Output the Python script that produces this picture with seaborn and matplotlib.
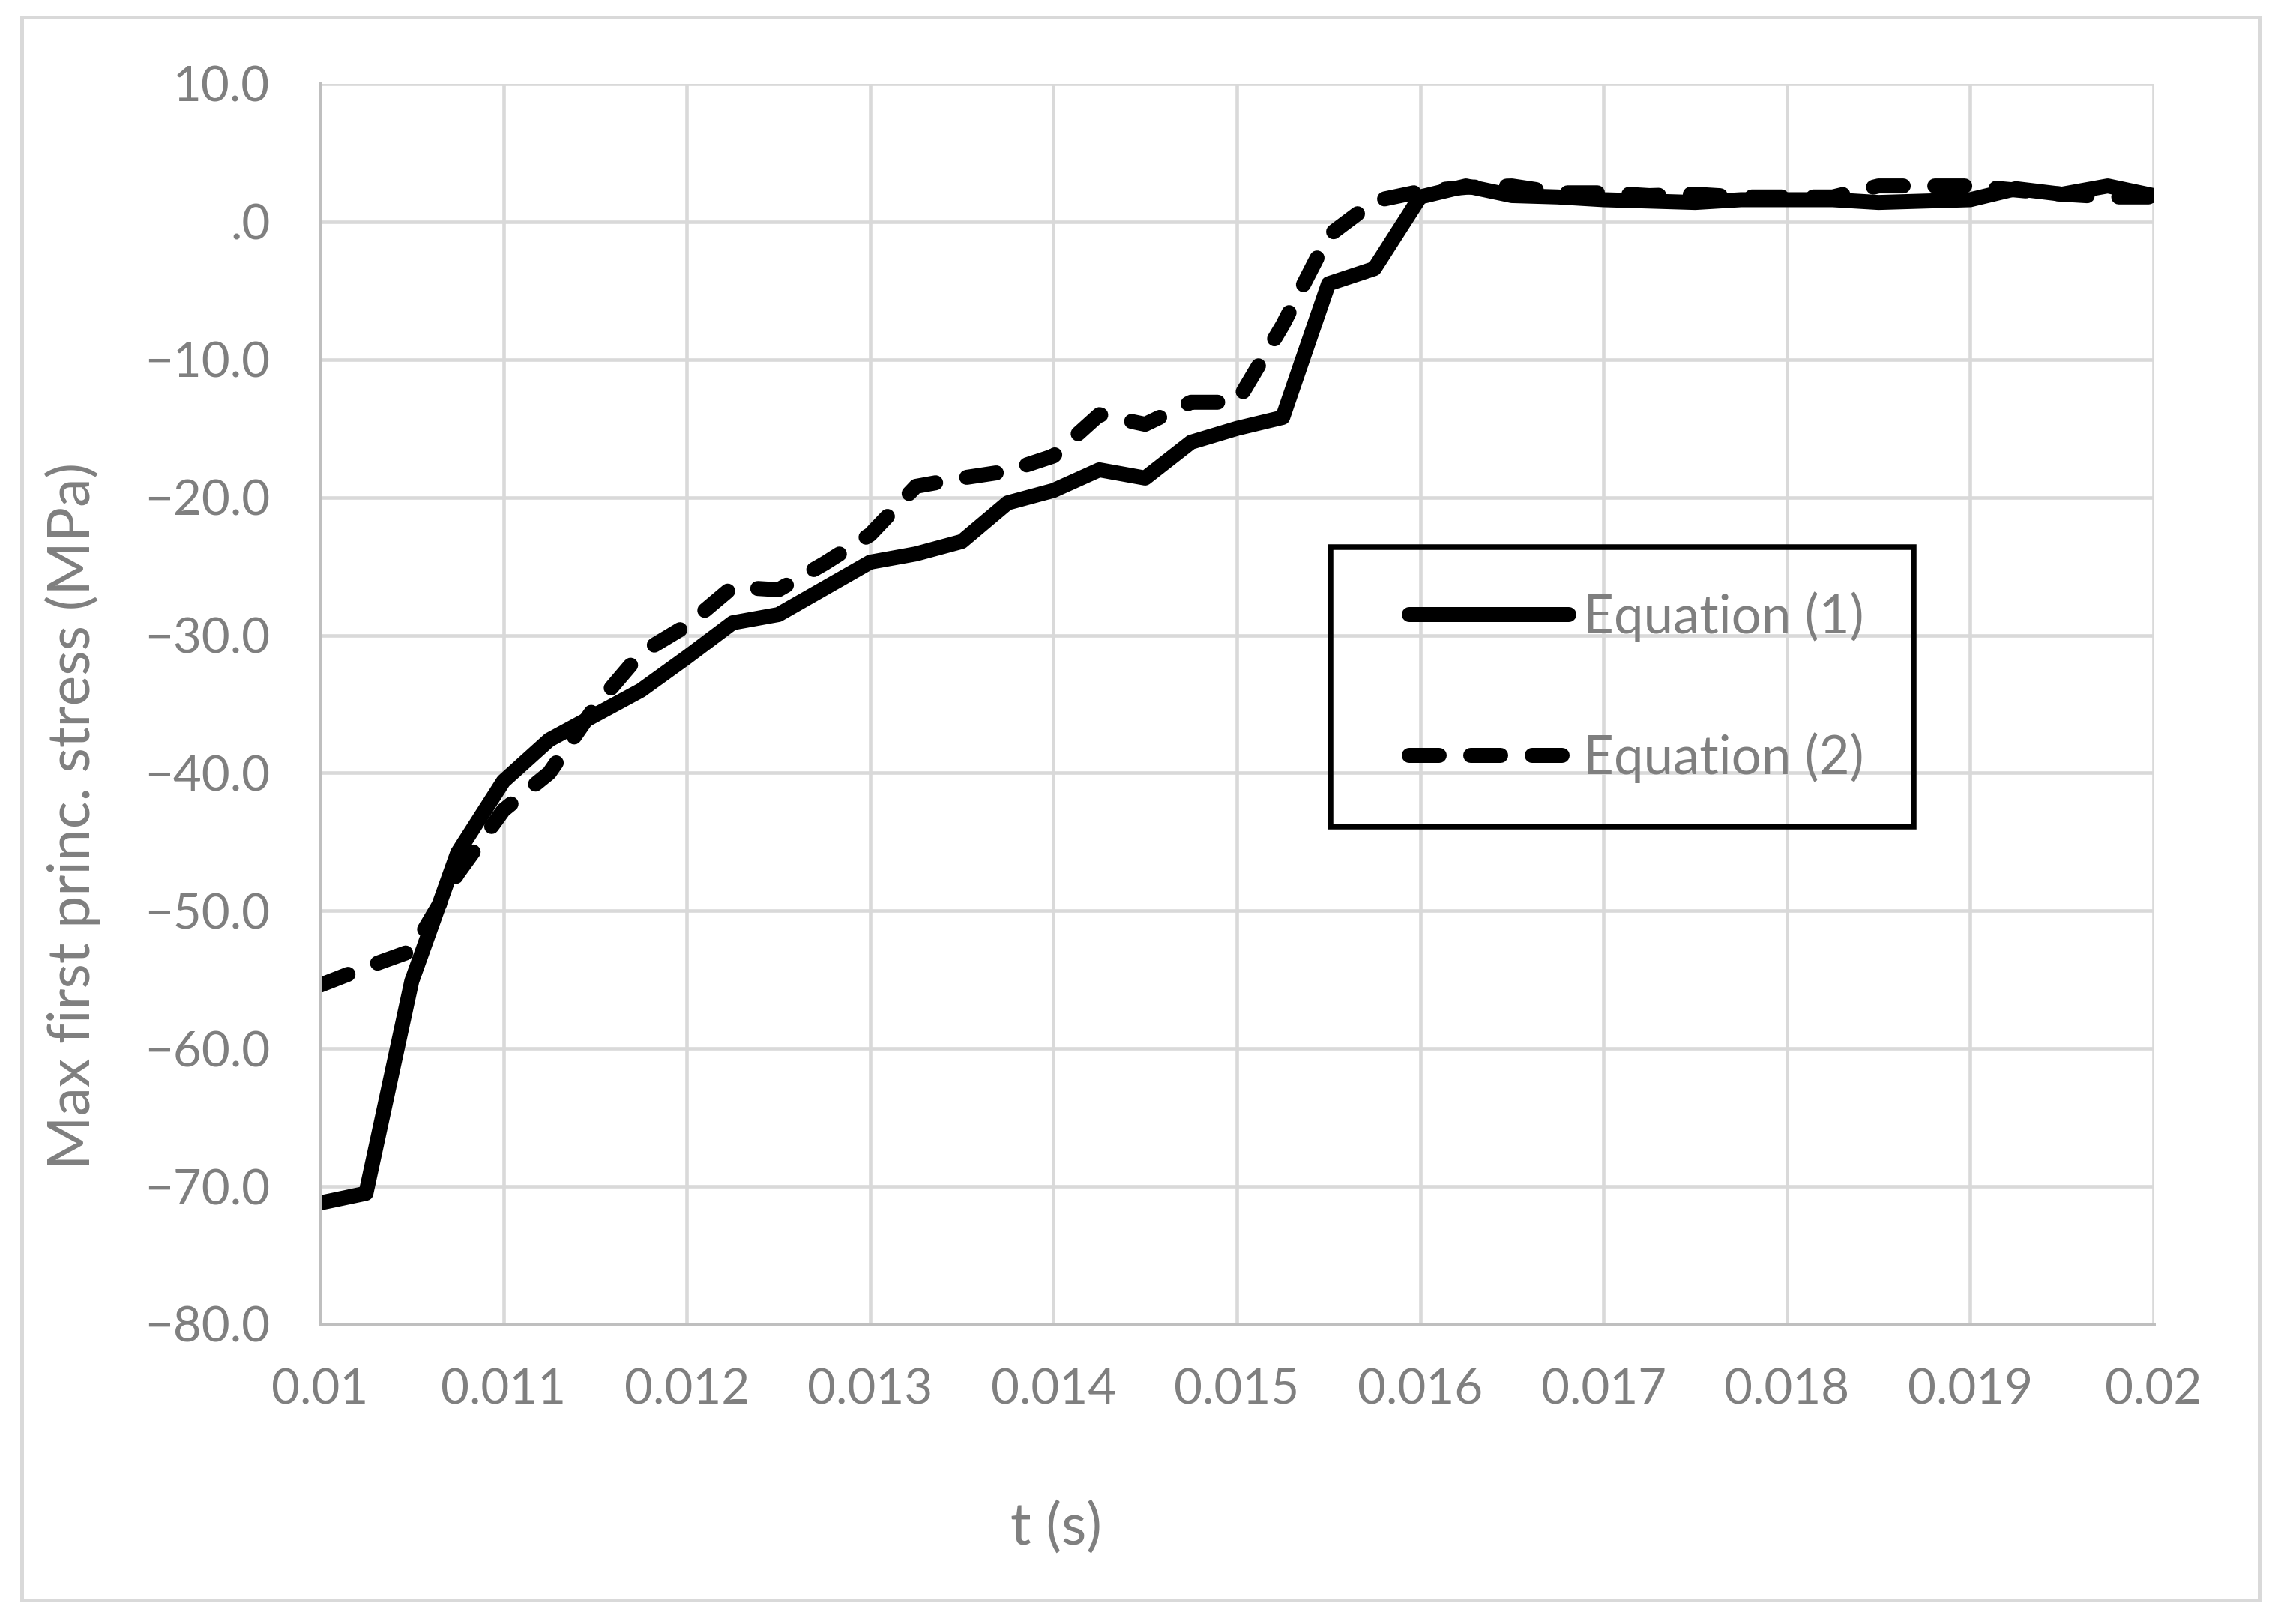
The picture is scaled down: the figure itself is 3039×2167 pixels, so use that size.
import pandas as pd
import matplotlib
matplotlib.use("Agg")
import matplotlib.pyplot as plt
from matplotlib.patches import Rectangle
from matplotlib.ticker import FixedLocator, FuncFormatter
import seaborn as sns

# time steps (s)
t = [0.01, 0.01025, 0.0105, 0.01075, 0.011, 0.01125, 0.0115, 0.01175,
     0.012, 0.01225, 0.0125, 0.01275, 0.013, 0.01325, 0.0135, 0.01375,
     0.014, 0.01425, 0.0145, 0.01475, 0.015, 0.01525, 0.0155, 0.01575,
     0.016, 0.01625, 0.0165, 0.01675, 0.017, 0.01725, 0.0175, 0.01775,
     0.018, 0.01825, 0.0185, 0.01875, 0.019, 0.01925, 0.0195, 0.01975, 0.02]

# max first principal stress (MPa)
eq1 = [-71.2, -70.5, -55.1, -45.8, -40.6, -37.6, -35.8, -34.0,
       -31.6, -29.1, -28.5, -26.6, -24.7, -24.1, -23.2, -20.4,
       -19.5, -18.0, -18.6, -16.0, -15.0, -14.2, -4.5, -3.4,
       1.8, 2.6, 1.9, 1.8, 1.6, 1.5, 1.4, 1.6,
       1.6, 1.6, 1.4, 1.5, 1.6, 2.4, 2.0, 2.6, 1.9]
eq2 = [-55.4, -54.1, -52.9, -47.3, -42.7, -40.0, -35.2, -31.3,
       -29.3, -26.5, -26.7, -24.8, -22.7, -19.2, -18.6, -18.1,
       -17.0, -14.0, -14.7, -13.1, -13.1, -7.5, -1.0, 1.5,
       2.2, 2.5, 2.6, 2.1, 2.1, 1.9, 2.0, 1.8,
       1.8, 1.8, 2.6, 2.6, 2.6, 2.3, 2.0, 1.8, 1.8]

labels = ["Equation (1)", "Equation (2)"]
x_ticks = [0.01, 0.011, 0.012, 0.013, 0.014, 0.015, 0.016, 0.017, 0.018, 0.019, 0.02]
y_ticks = [10, 0, -10, -20, -30, -40, -50, -60, -70, -80]

df = pd.DataFrame({"t": t * 2, "stress": eq1 + eq2,
                   "series": [labels[0]] * len(t) + [labels[1]] * len(t)})

sns.set_style("white")
plt.rcParams["font.family"] = ["Lato", "DejaVu Sans"]

W, H = 3039, 2167
grey = "#7f7f7f"
fig = plt.figure(figsize=(W / 300, H / 300), dpi=300)
ax = fig.add_axes([427 / W, 1 - 1767 / H, (2873 - 427) / W, (1767 - 112) / H])

sns.lineplot(data=df, x="t", y="stress", hue="series", style="series",
             palette=["black", "black"], dashes=[(None, None), (2, 2.1)],
             linewidth=4.8, ax=ax, legend=False)
ax.lines[1].set_dash_capstyle("round")
ax.lines[1].set_dashes((2, 2.1))

ax.set_xlim(0.01, 0.02)
ax.set_ylim(-80, 10)
ax.xaxis.set_major_locator(FixedLocator(x_ticks))
ax.yaxis.set_major_locator(FixedLocator(y_ticks))


def fmt_y(v, pos):
    if abs(v) < 1e-9:
        return ".0"
    s = f"{abs(v):.1f}"
    return ("\u2212" + s) if v < 0 else s


ax.yaxis.set_major_formatter(FuncFormatter(fmt_y))
ax.xaxis.set_major_formatter(FuncFormatter(lambda v, p: f"{v:.3f}".rstrip("0")))
ax.tick_params(axis="both", length=0, labelsize=15.7, labelcolor=grey)
ax.tick_params(axis="y", pad=16)
ax.tick_params(axis="x", pad=14)
ax.grid(True, color="#d9d9d9", linewidth=1.1)
ax.set_axisbelow(True)
for side in ["top", "right"]:
    ax.spines[side].set_visible(False)
for side in ["left", "bottom"]:
    ax.spines[side].set_color("#bfbfbf")
    ax.spines[side].set_linewidth(1.2)
ax.set_xlabel("")
ax.set_ylabel("")

fig.text(97 / W, 1 - 1088 / H, "Max first princ. stress (MPa)", rotation=90,
         ha="center", va="center", fontsize=18.5, color=grey)
fig.text(1409 / W, 1 - 2039 / H, "t (s)", ha="center", va="center",
         fontsize=18.5, color=grey)

# legend with a hand-placed frame
leg = ax.legend(ax.lines[:2], labels, loc="center left",
                bbox_to_anchor=(1880 / W, 1 - 917 / H), bbox_transform=fig.transFigure,
                frameon=False, borderpad=0, borderaxespad=0, handlelength=3.0,
                handletextpad=0.27, labelspacing=1.7, fontsize=17, labelcolor=grey)
fig.patches.append(Rectangle((1775 / W, 1 - 1103 / H), (2553 - 1775) / W, (1103 - 730) / H,
                             transform=fig.transFigure, fill=False, edgecolor="black",
                             linewidth=1.8, zorder=5))

# outer chart border
fig.patches.append(Rectangle((29 / W, 1 - 2135 / H), (3014 - 29) / W, (2135 - 23) / H,
                             transform=fig.transFigure, fill=False, edgecolor="#d9d9d9",
                             linewidth=1.2))

fig.savefig("out.png", dpi=300)
